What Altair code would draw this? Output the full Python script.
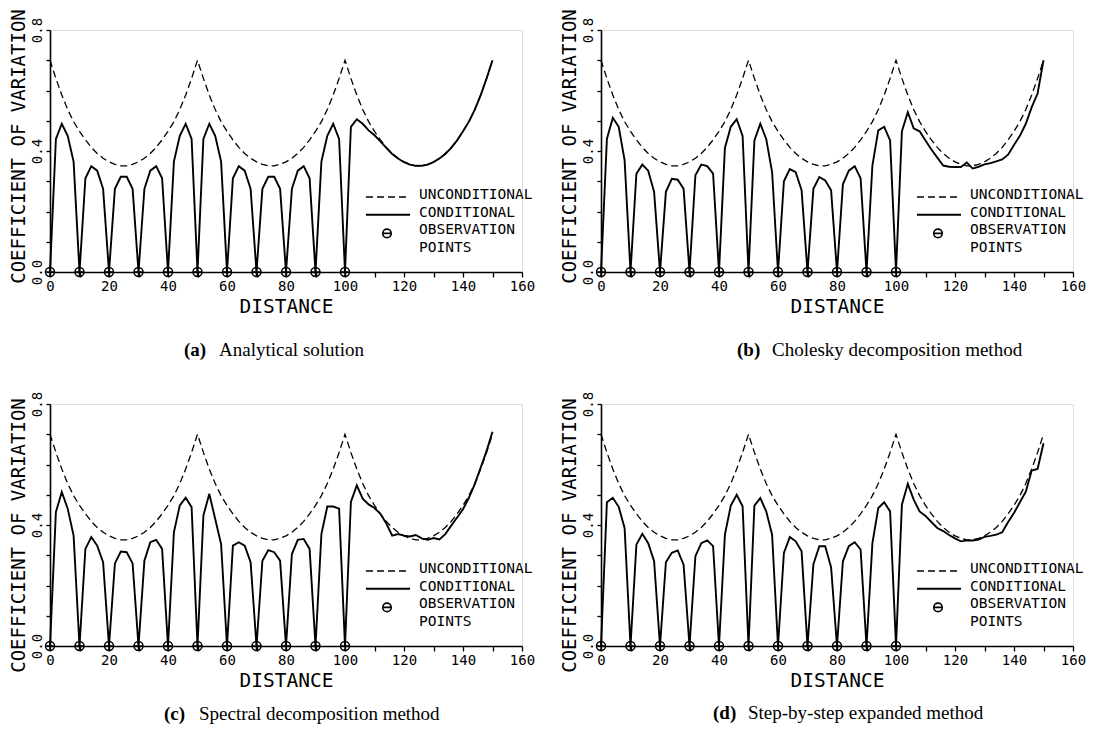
import altair as alt
import pandas as pd

# ---------------- data ----------------
DIST = list(range(0, 152, 2))

UNCOND = [
    0.700, 0.640, 0.585, 0.537, 0.497, 0.465, 0.437, 0.412, 0.392, 0.376, 0.364, 0.356, 0.351,
    0.351, 0.356, 0.364, 0.376, 0.392, 0.412, 0.437, 0.465, 0.497, 0.537, 0.585, 0.640,
    0.700, 0.640, 0.585, 0.537, 0.497, 0.465, 0.437, 0.412, 0.392, 0.376, 0.364, 0.356, 0.351,
    0.351, 0.356, 0.364, 0.376, 0.392, 0.412, 0.437, 0.465, 0.497, 0.537, 0.585, 0.640,
    0.700, 0.640, 0.585, 0.537, 0.497, 0.465, 0.437, 0.412, 0.392, 0.376, 0.364, 0.356, 0.351,
    0.351, 0.356, 0.364, 0.376, 0.392, 0.412, 0.437, 0.465, 0.497, 0.537, 0.585, 0.640,
    0.700,
]

COND_A = [
    0, 0.440, 0.490, 0.450, 0.365,
    0, 0.310, 0.350, 0.335, 0.275,
    0, 0.275, 0.315, 0.315, 0.275,
    0, 0.275, 0.335, 0.350, 0.310,
    0, 0.365, 0.450, 0.490, 0.440,
    0, 0.440, 0.490, 0.450, 0.365,
    0, 0.310, 0.350, 0.335, 0.275,
    0, 0.275, 0.315, 0.315, 0.275,
    0, 0.275, 0.335, 0.350, 0.310,
    0, 0.365, 0.450, 0.490, 0.440,
    0, 0.480, 0.505, 0.490, 0.468, 0.452, 0.432, 0.410, 0.390, 0.375, 0.363, 0.355, 0.351,
    0.351, 0.355, 0.363, 0.375, 0.390, 0.410, 0.435, 0.465, 0.497, 0.537, 0.585, 0.640, 0.700,
]

COND_B = [
    0, 0.440, 0.510, 0.480, 0.370,
    0, 0.325, 0.355, 0.335, 0.265,
    0, 0.265, 0.308, 0.305, 0.275,
    0, 0.320, 0.355, 0.350, 0.325,
    0, 0.410, 0.480, 0.505, 0.450,
    0, 0.435, 0.490, 0.440, 0.330,
    0, 0.300, 0.340, 0.330, 0.270,
    0, 0.275, 0.314, 0.303, 0.270,
    0, 0.290, 0.335, 0.350, 0.310,
    0, 0.352, 0.468, 0.480, 0.435,
    0, 0.465, 0.528, 0.475, 0.465, 0.435, 0.405, 0.378, 0.352, 0.348, 0.347, 0.347, 0.362,
    0.342, 0.348, 0.356, 0.360, 0.366, 0.372, 0.388, 0.420, 0.450, 0.490, 0.545, 0.590, 0.700,
]

COND_C = [
    0, 0.443, 0.509, 0.454, 0.365,
    0, 0.321, 0.360, 0.332, 0.277,
    0, 0.273, 0.312, 0.310, 0.273,
    0, 0.282, 0.343, 0.351, 0.321,
    0, 0.376, 0.465, 0.490, 0.459,
    0, 0.431, 0.503, 0.420, 0.337,
    0, 0.332, 0.343, 0.332, 0.277,
    0, 0.282, 0.317, 0.310, 0.282,
    0, 0.304, 0.351, 0.354, 0.321,
    0, 0.370, 0.461, 0.461, 0.454,
    0, 0.476, 0.531, 0.487, 0.468, 0.456, 0.437, 0.405, 0.365, 0.370, 0.365, 0.362, 0.367,
    0.356, 0.351, 0.357, 0.352, 0.370, 0.398, 0.425, 0.452, 0.490, 0.535, 0.590, 0.645, 0.708,
]

COND_D = [
    0, 0.475, 0.490, 0.460, 0.390,
    0, 0.335, 0.371, 0.340, 0.280,
    0, 0.277, 0.308, 0.316, 0.269,
    0, 0.297, 0.340, 0.349, 0.330,
    0, 0.368, 0.464, 0.500, 0.462,
    0, 0.464, 0.489, 0.445, 0.368,
    0, 0.308, 0.360, 0.346, 0.313,
    0, 0.270, 0.330, 0.330, 0.260,
    0, 0.280, 0.330, 0.343, 0.319,
    0, 0.340, 0.456, 0.475, 0.445,
    0, 0.467, 0.536, 0.484, 0.445, 0.430, 0.410, 0.390, 0.380, 0.367, 0.356, 0.346, 0.349,
    0.349, 0.352, 0.361, 0.364, 0.368, 0.376, 0.410, 0.440, 0.475, 0.510, 0.580, 0.585, 0.670,
]

OBS_X = [0, 10, 20, 30, 40, 50, 60, 70, 80, 90, 100]
OBS_Y = [0] * len(OBS_X)

X_TICKS = list(range(0, 161, 10))
Y_TICKS = [0.0, 0.1, 0.2, 0.3, 0.4, 0.5, 0.6, 0.7, 0.8]
Y_SHOWN = ["0.0", "0.4", "0.8"]

LETTERS = ["(a)", "(b)", "(c)", "(d)"]
CAPTIONS = ["Analytical solution", "Cholesky decomposition method",
            "Spectral decomposition method", "Step-by-step expanded method"]
LEGEND_TEXT = ["UNCONDITIONAL", "CONDITIONAL", "OBSERVATION", "POINTS"]

X_TITLE = "DISTANCE"
Y_TITLE = "COEFFICIENT OF VARIATION"

# ---------------- styling ----------------
W, H = 472, 242
MONO = "DejaVu Sans Mono"
SERIF = "Liberation Serif"
OBS_SHAPE = "M-1,0A1,1 0 1,1 1,0A1,1 0 1,1 -1,0ZM-1,0L1,0M0,-1L0,1"
THETA_SHAPE = "M-1,0A1,1 0 1,1 1,0A1,1 0 1,1 -1,0ZM-1,0L1,0"


def x_axis():
    return alt.Axis(
        values=X_TICKS, format="d",
        labelExpr="datum.value % 20 === 0 ? datum.label : ''",
        labelFont=MONO, labelFontSize=14, labelColor="black", labelFlush=False,
        labelOverlap=False, labelBaseline="alphabetic", labelPadding=13,
        tickSize=5, tickColor="black", tickWidth=1.3,
        domainColor="black", domainWidth=1.6, grid=False,
        title=X_TITLE, titleFont=MONO, titleFontSize=19.5, titleFontWeight="normal",
        titleColor="black", titleBaseline="alphabetic", titleY=40,
    )


def y_axis(title_y):
    return alt.Axis(
        values=Y_TICKS, format=".1f",
        labelExpr="indexof(['0.0', '0.4', '0.8'], datum.label) >= 0 ? datum.label : ''",
        labelFont=MONO, labelFontSize=14, labelColor="black", labelAngle=270,
        labelAlign="center", labelBaseline="alphabetic", labelPadding=5,
        labelOverlap=False, labelFlush=False,
        tickSize=4, tickColor="black", tickWidth=1.3,
        domainColor="black", domainWidth=1.6, grid=False,
        title=Y_TITLE, titleFont=MONO, titleFontSize=19, titleFontWeight="normal",
        titleColor="black", titleAngle=270, titleAlign="center",
        titleBaseline="alphabetic", titleX=-26, titleY=title_y,
    )


def one_row():
    return alt.Chart(pd.DataFrame({"k": [0]}))


def panel(idx, cond, cap_dx, cap_dy, title_y):
    df = pd.DataFrame({"d": DIST, "u": UNCOND, "c": cond})
    obs = pd.DataFrame({"d": OBS_X, "v": OBS_Y})
    xscale = alt.Scale(domain=[0, 160], nice=False, zero=False)
    yscale = alt.Scale(domain=[0, 0.8], nice=False)
    xa = x_axis()
    ya = y_axis(title_y)

    uncond = alt.Chart(df).mark_line(color="black", strokeWidth=1.3, strokeDash=[7, 4]).encode(
        x=alt.X("d:Q", scale=xscale, axis=xa),
        y=alt.Y("u:Q", scale=yscale, axis=ya),
    )
    condl = alt.Chart(df).mark_line(color="black", strokeWidth=1.9).encode(
        x=alt.X("d:Q", scale=xscale, axis=xa),
        y=alt.Y("c:Q", scale=yscale, axis=ya),
    )
    pts = alt.Chart(obs).mark_point(shape=OBS_SHAPE, size=81, filled=False,
                                    color="black", strokeWidth=1.5, opacity=1).encode(
        x=alt.X("d:Q", scale=xscale, axis=xa),
        y=alt.Y("v:Q", scale=yscale, axis=ya),
    )

    # legend drawn inside the plot
    leg_x, leg_y, step = 369, 165, 17.7
    dash_s = one_row().mark_rule(color="black", strokeWidth=1.4, strokeDash=[7, 4]).encode(
        x=alt.value(316), x2=alt.value(358), y=alt.value(leg_y + 2))
    solid_s = one_row().mark_rule(color="black", strokeWidth=1.9).encode(
        x=alt.value(316), x2=alt.value(360), y=alt.value(leg_y + step + 2))
    sym = one_row().mark_point(shape=THETA_SHAPE, size=72, filled=False, color="black",
                               strokeWidth=1.6, opacity=1).encode(
        x=alt.value(337), y=alt.value(leg_y + 2 * step + 3))
    texts = [
        one_row().mark_text(font=MONO, fontSize=14.5, align="left", baseline="middle",
                            color="black").encode(
            x=alt.value(leg_x), y=alt.value(leg_y + i * step), text=alt.value(t))
        for i, t in enumerate(LEGEND_TEXT)
    ]

    cap1 = one_row().mark_text(font=SERIF, fontSize=19, fontWeight="bold", align="left",
                               baseline="middle", color="black").encode(
        x=alt.value(cap_dx), y=alt.value(cap_dy), text=alt.value(LETTERS[idx]))
    cap2 = one_row().mark_text(font=SERIF, fontSize=19, align="left",
                               baseline="middle", color="black").encode(
        x=alt.value(cap_dx + 35), y=alt.value(cap_dy), text=alt.value(CAPTIONS[idx]))

    return alt.layer(uncond, condl, pts, dash_s, solid_s, sym, *texts, cap1, cap2).properties(
        width=W, height=H)


pa = panel(0, COND_A, 134, 320, 116)
pb = panel(1, COND_B, 136, 320, 116)
pc = panel(2, COND_C, 114, 310, 131)
pd_ = panel(3, COND_D, 112, 309, 131)

chart = alt.concat(pa, pb, pc, pd_, columns=2, spacing={"row": 132, "column": 79},
                   bounds="flush", padding=0).configure_view(
    strokeWidth=0).configure(background="white")

chart.save("out.html", embed_options={"renderer": "svg", "actions": False})
